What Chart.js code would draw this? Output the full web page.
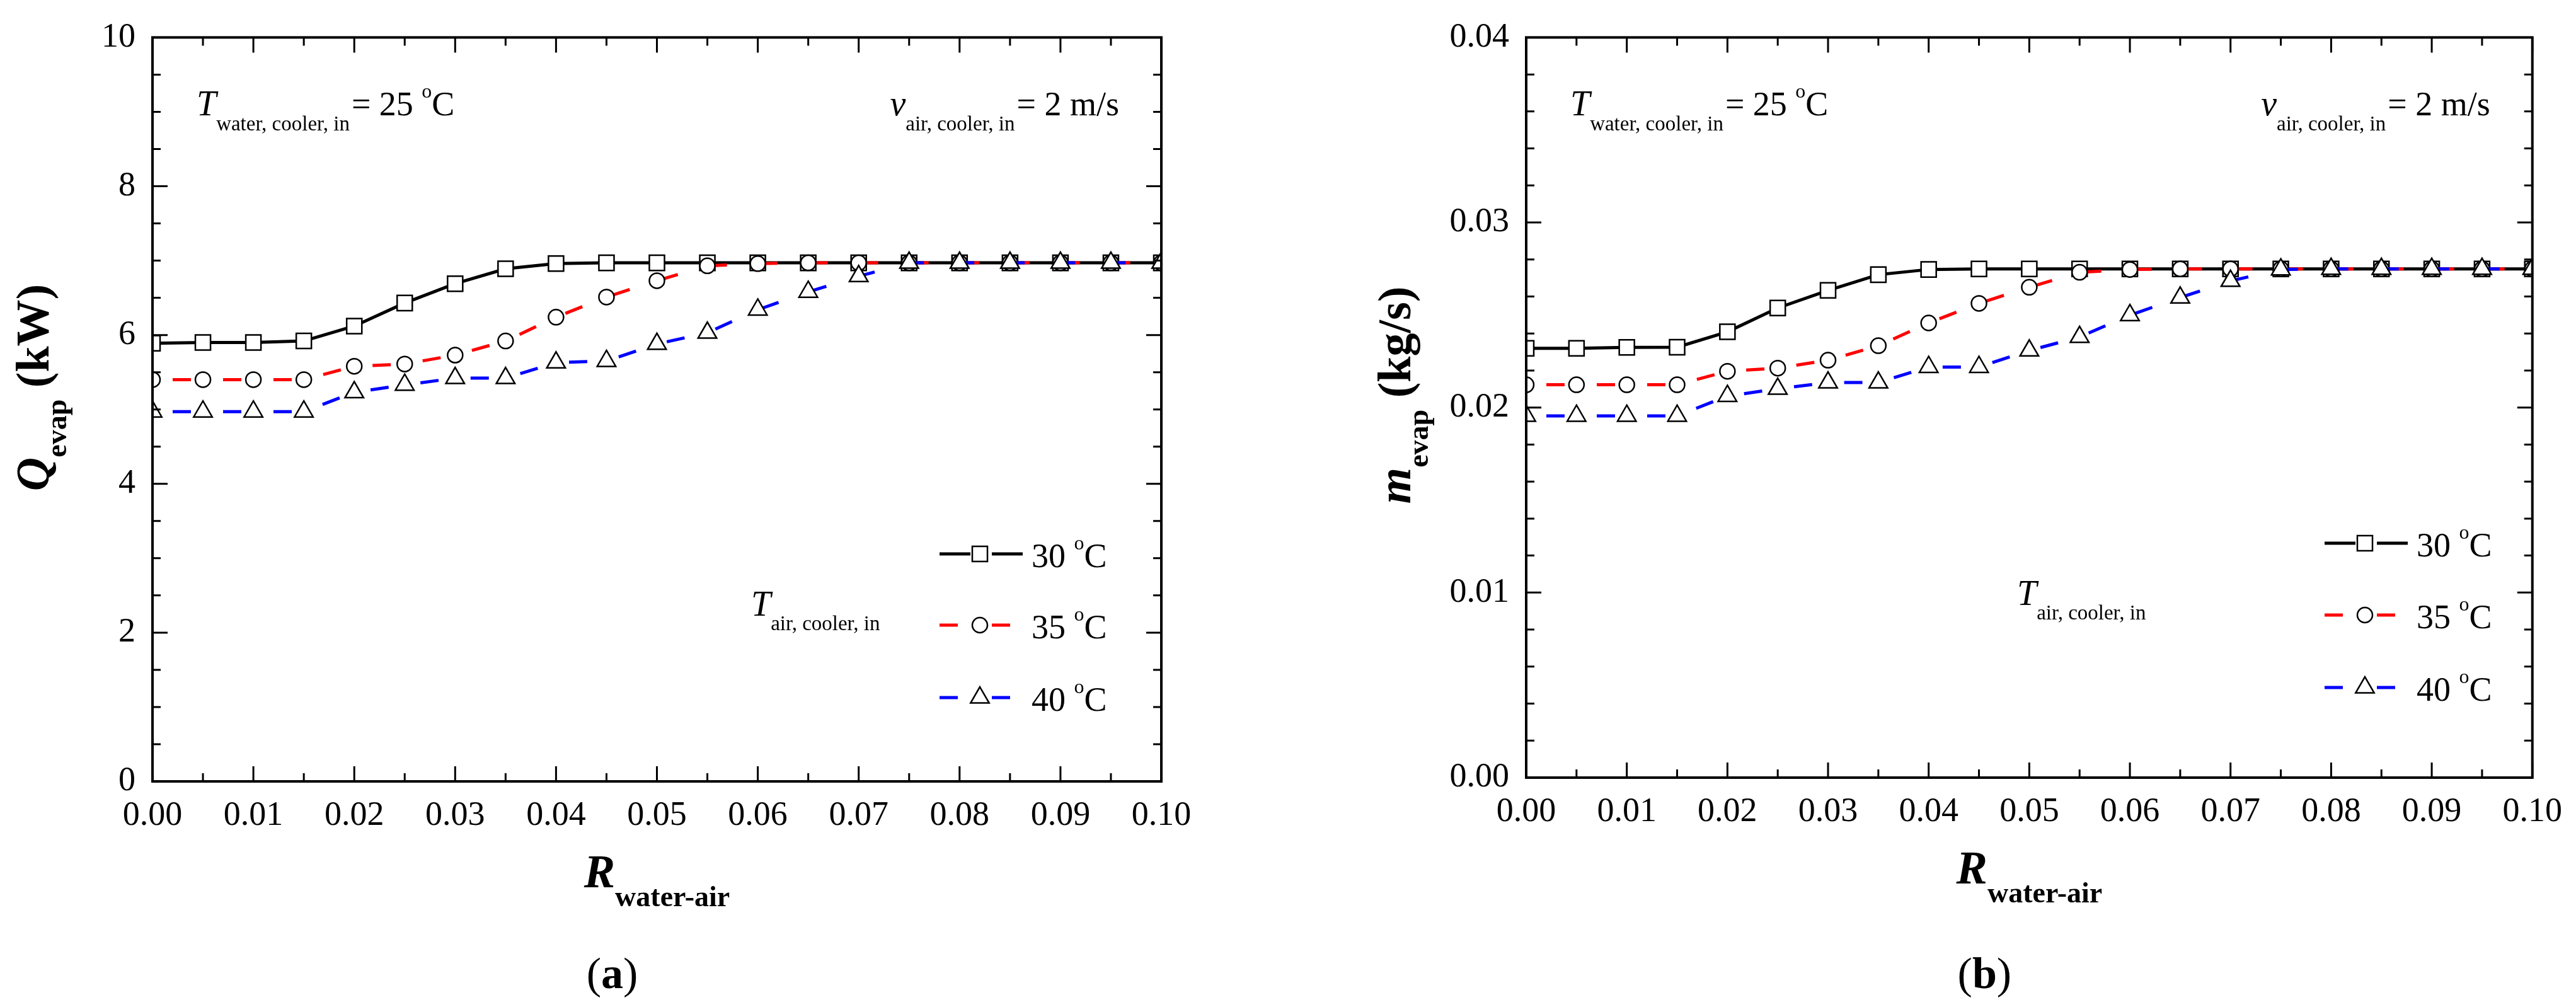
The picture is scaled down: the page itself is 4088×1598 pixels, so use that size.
<!DOCTYPE html>
<html>
<head>
<meta charset="utf-8">
<script src="https://cdn.jsdelivr.net/npm/chart.js@4.4.1/dist/chart.umd.min.js"></script>
<style>
  html, body { margin: 0; padding: 0; background: #fff; }
  body { width: 4088px; height: 1598px; position: relative; overflow: hidden; }
  canvas { position: absolute; top: 0; }
  #chartQ { left: 0; }
  #chartM { left: 2044px; }
</style>
</head>
<body>
<canvas id="chartQ" width="2044" height="1598"></canvas>
<canvas id="chartM" width="2044" height="1598"></canvas>
<script>
// x: fouling resistance R water-air
const rWaterAir = [0.000, 0.005, 0.010, 0.015, 0.020, 0.025, 0.030, 0.035, 0.040, 0.045, 0.050,
                   0.055, 0.060, 0.065, 0.070, 0.075, 0.080, 0.085, 0.090, 0.095, 0.100];
const rTickLabels = ['0.00', '0.01', '0.02', '0.03', '0.04', '0.05', '0.06', '0.07', '0.08', '0.09', '0.10'];
const rTicks = [0, 0.01, 0.02, 0.03, 0.04, 0.05, 0.06, 0.07, 0.08, 0.09, 0.10];
const airTemps = ['30', '35', '40'];

// (a) Q evap, kW
const qEvap30 = [5.89, 5.90, 5.90, 5.92, 6.12, 6.43, 6.69, 6.89, 6.96, 6.97, 6.97,
                 6.97, 6.97, 6.97, 6.97, 6.97, 6.97, 6.97, 6.97, 6.97, 6.97];
const qEvap35 = [5.40, 5.40, 5.40, 5.40, 5.58, 5.61, 5.73, 5.92, 6.24, 6.51, 6.73,
                 6.93, 6.96, 6.97, 6.97, 6.97, 6.97, 6.97, 6.97, 6.97, 6.97];
const qEvap40 = [4.97, 4.97, 4.97, 4.97, 5.23, 5.33, 5.42, 5.42, 5.63, 5.65, 5.88,
                 6.03, 6.34, 6.58, 6.79, 6.97, 6.97, 6.97, 6.97, 6.97, 6.97];
const qTicks = [0, 2, 4, 6, 8, 10];
const qTickLabels = ['0', '2', '4', '6', '8', '10'];

// (b) m evap, kg/s
const mEvap30 = [0.02320, 0.02320, 0.02325, 0.02326, 0.02409, 0.02538, 0.02633, 0.02718, 0.02746, 0.02749, 0.02749,
                 0.02749, 0.02749, 0.02749, 0.02749, 0.02749, 0.02749, 0.02749, 0.02749, 0.02749, 0.02749];
const mEvap35 = [0.02123, 0.02123, 0.02123, 0.02123, 0.02196, 0.02213, 0.02256, 0.02334, 0.02457, 0.02563, 0.02650,
                 0.02731, 0.02746, 0.02749, 0.02749, 0.02749, 0.02749, 0.02749, 0.02749, 0.02749, 0.02749];
const mEvap40 = [0.01955, 0.01955, 0.01955, 0.01955, 0.02062, 0.02101, 0.02135, 0.02135, 0.02219, 0.02219, 0.02308,
                 0.02381, 0.02499, 0.02594, 0.02684, 0.02746, 0.02749, 0.02749, 0.02749, 0.02749, 0.02749];
const mTicks = [0, 0.01, 0.02, 0.03, 0.04];
const mTickLabels = ['0.00', '0.01', '0.02', '0.03', '0.04'];

const SERIF = '"Liberation Serif", "Times New Roman", serif';
const looks = [
  { color: '#000000', dash: [], point: 'rect', r: 17 },
  { color: '#ff0000', dash: [29, 51], point: 'circle', r: 12 },
  { color: '#0000ff', dash: [29, 51], point: 'triangle', r: 17 }
];

function drawParts(ctx, x, y, parts) {
  parts.forEach(p => {
    ctx.font = p.font;
    x += p.dx || 0;
    ctx.fillText(p.t, x, y + (p.dy || 0));
    x += ctx.measureText(p.t).width;
  });
}
function partsWidth(ctx, parts) {
  let w = 0;
  parts.forEach(p => { ctx.font = p.font; w += (p.dx || 0) + ctx.measureText(p.t).width; });
  return w;
}
function marker(ctx, style, r, x, y) {
  ctx.beginPath();
  if (style === 'rect') {
    const s = r * Math.SQRT1_2;
    ctx.rect(x - s, y - s, 2 * s, 2 * s);
  } else if (style === 'circle') {
    ctx.arc(x, y, r, 0, Math.PI * 2);
  } else {
    for (let k = 0; k < 3; k++) {
      const a = k * 2 * Math.PI / 3;
      const px = x + Math.sin(a) * r, py = y - Math.cos(a) * r;
      k ? ctx.lineTo(px, py) : ctx.moveTo(px, py);
    }
    ctx.closePath();
  }
  ctx.fill();
  ctx.stroke();
}

const f = (style, size) => `${style} ${size}px ${SERIF}`;
const MAIN = f('', 54), ITAL = f('italic', 56), SUB = f('', 33), SUP = f('', 32);

// frame, inward ticks, titles, notes and legend
const decor = {
  id: 'decor',
  afterDraw(chart, args, o) {
    const { ctx, chartArea: a, scales: { x, y } } = chart;
    ctx.save();
    ctx.strokeStyle = '#000';
    ctx.fillStyle = '#000';
    ctx.textBaseline = 'alphabetic';
    ctx.textAlign = 'left';

    const withMinor = (vals, n) => {
      const out = [];
      for (let i = 0; i < vals.length - 1; i++)
        for (let k = 1; k <= n; k++) out.push(vals[i] + (vals[i + 1] - vals[i]) * k / (n + 1));
      return out;
    };
    const xMaj = x.ticks.map(t => t.value), yMaj = y.ticks.map(t => t.value);
    ctx.lineWidth = 3;
    const ticks = (vals, len) => {
      vals.forEach(v => {
        const px = x.getPixelForValue(v);
        ctx.beginPath();
        ctx.moveTo(px, a.bottom); ctx.lineTo(px, a.bottom - len);
        ctx.moveTo(px, a.top); ctx.lineTo(px, a.top + len);
        ctx.stroke();
      });
    };
    const yticks = (vals, len) => {
      vals.forEach(v => {
        const py = y.getPixelForValue(v);
        ctx.beginPath();
        ctx.moveTo(a.left, py); ctx.lineTo(a.left + len, py);
        ctx.moveTo(a.right, py); ctx.lineTo(a.right - len, py);
        ctx.stroke();
      });
    };
    ticks(xMaj, 24); ticks(withMinor(xMaj, 1), 13);
    yticks(yMaj, 24); yticks(withMinor(yMaj, o.minorY), 13);
    ctx.lineWidth = 4;
    ctx.strokeRect(a.left, a.top, a.width, a.height);

    // y title (rotated)
    const yParts = [
      { t: o.ySym, font: f('italic bold', 74) },
      { t: 'evap', font: f('bold', 46), dy: 28 },
      { t: ' ' + o.yUnit, font: f('bold', 74) }
    ];
    ctx.save();
    ctx.translate(o.yTitleX, o.yTitleY);
    ctx.rotate(-Math.PI / 2);
    drawParts(ctx, -partsWidth(ctx, yParts) / 2, 0, yParts);
    ctx.restore();

    // x title
    const xParts = [
      { t: 'R', font: f('italic bold', 74) },
      { t: 'water-air', font: f('bold', 46), dy: 30 }
    ];
    const cx = (a.left + a.right) / 2;
    drawParts(ctx, cx - partsWidth(ctx, xParts) / 2, a.bottom + 168, xParts);

    // panel caption
    const cap = [
      { t: '(', font: f('', 70) },
      { t: o.caption, font: f('bold', 70) },
      { t: ')', font: f('', 70) }
    ];
    drawParts(ctx, cx - 71 - partsWidth(ctx, cap) / 2, 1568, cap);

    // notes at the top
    drawParts(ctx, a.left + 70, a.top + 124, [
      { t: 'T', font: ITAL },
      { t: 'water, cooler, in', font: SUB, dy: 24 },
      { t: '= 25 ', font: MAIN, dx: 3 },
      { t: 'o', font: SUP, dy: -28 },
      { t: 'C', font: MAIN }
    ]);
    const vParts = [
      { t: 'v', font: ITAL },
      { t: 'air, cooler, in', font: SUB, dy: 24 },
      { t: '= 2 m/s', font: MAIN, dx: 3 }
    ];
    drawParts(ctx, a.right - 67 - partsWidth(ctx, vParts), a.top + 124, vParts);

    // legend
    drawParts(ctx, o.legLabelX, o.legLabelY, [
      { t: 'T', font: ITAL },
      { t: 'air, cooler, in', font: SUB, dy: 23 }
    ]);
    chart.data.datasets.forEach((ds, i) => {
      const lk = looks[i], ly = o.legRows[i], lx = o.legX;
      ctx.strokeStyle = lk.color;
      ctx.lineWidth = 5;
      ctx.setLineDash(lk.dash.length ? [29, 200] : []);
      [[0, 49], [83, 132]].forEach(([s, e]) => {
        ctx.beginPath(); ctx.moveTo(lx + s, ly); ctx.lineTo(lx + e, ly); ctx.stroke();
      });
      ctx.setLineDash([]);
      ctx.strokeStyle = '#000';
      ctx.fillStyle = '#fff';
      ctx.lineWidth = 2.5;
      marker(ctx, lk.point, lk.r, lx + 64, ly);
      ctx.fillStyle = '#000';
      drawParts(ctx, lx + 146, ly + 21, [
        { t: airTemps[i] + ' ', font: MAIN },
        { t: 'o', font: SUP, dy: -28 },
        { t: 'C', font: MAIN }
      ]);
    });
    ctx.restore();
  }
};

function makeChart(id, series, yCfg, o) {
  const datasets = series.map((vals, i) => ({
    label: airTemps[i] + ' °C',
    data: rWaterAir.map((r, k) => ({ x: r, y: vals[k] })),
    borderColor: looks[i].color,
    borderWidth: 5,
    borderDash: looks[i].dash,
    borderDashOffset: 48,
    pointStyle: looks[i].point,
    pointRadius: looks[i].r,
    pointHoverRadius: looks[i].r,
    pointBackgroundColor: '#fff',
    pointBorderColor: '#000',
    pointBorderWidth: 2.5,
    tension: 0,
    order: 2 - i
  }));
  const tickFont = { family: SERIF, size: 54 };
  return new Chart(document.getElementById(id), {
    type: 'line',
    data: { datasets },
    options: {
      responsive: false,
      animation: false,
      events: [],
      layout: { padding: { left: 0, top: o.top, right: o.right, bottom: 0 } },
      plugins: { legend: { display: false }, tooltip: { enabled: false }, decor: o },
      scales: {
        x: {
          type: 'linear', min: 0, max: 0.1,
          afterBuildTicks: s => { s.ticks = rTicks.map(v => ({ value: v })); },
          ticks: { callback: (v, i) => rTickLabels[i], font: tickFont, color: '#000', padding: 22, maxRotation: 0, autoSkip: false },
          grid: { display: false, drawTicks: false },
          border: { display: false },
          afterFit: s => { s.height = 1598 - o.bottom; }
        },
        y: {
          type: 'linear', min: yCfg.min, max: yCfg.max,
          afterBuildTicks: s => { s.ticks = yCfg.ticks.map(v => ({ value: v })); },
          ticks: { callback: (v, i) => yCfg.labels[i], font: tickFont, color: '#000', padding: 27, autoSkip: false },
          grid: { display: false, drawTicks: false },
          border: { display: false },
          afterFit: s => { s.width = o.left; }
        }
      }
    },
    plugins: [decor]
  });
}

makeChart('chartQ', [qEvap30, qEvap35, qEvap40],
  { min: 0, max: 10, ticks: qTicks, labels: qTickLabels },
  { top: 49, bottom: 1240, left: 242, right: 2044 - 1843, minorY: 3,
    ySym: 'Q', yUnit: '(kW)', yTitleX: 77, yTitleY: 615, caption: 'a',
    legX: 1491, legRows: [879, 992, 1107], legLabelX: 1192, legLabelY: 977 });

makeChart('chartM', [mEvap30, mEvap35, mEvap40],
  { min: 0, max: 0.04, ticks: mTicks, labels: mTickLabels },
  { top: 45, bottom: 1234, left: 378, right: 2044 - 1982, minorY: 4,
    ySym: 'm', yUnit: '(kg/s)', yTitleX: 194, yTitleY: 627, caption: 'b',
    legX: 1645, legRows: [862, 976, 1091], legLabelX: 1157, legLabelY: 960 });
</script>
</body>
</html>
